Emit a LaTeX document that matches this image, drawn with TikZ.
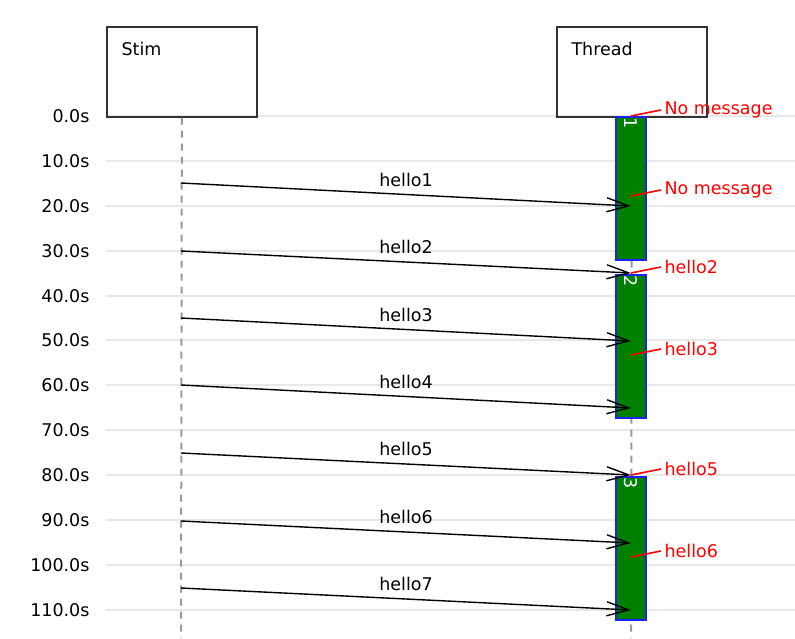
\documentclass[tikz,border=0pt]{standalone}
\usepackage{fontspec}
\setmainfont{DejaVu Sans}
\usepackage{tikz}
\usepackage{xcolor}
\usetikzlibrary{arrows.meta}

\definecolor{gridgray}{HTML}{E8E8E8}
\definecolor{lifegray}{HTML}{999999}
\definecolor{actgreen}{HTML}{008000}
\definecolor{actblue}{HTML}{2020F0}

\begin{document}
\begin{tikzpicture}[x=1pt,y=-1pt,
  every node/.style={font=\fontsize{17.5}{20}\selectfont},
  actor/.style={draw=black!80,line width=1.7pt,minimum width=150pt,minimum height=90pt,anchor=north west},
  gridline/.style={gridgray,line width=2pt},
  tick/.style={anchor=east},
  lifeline/.style={lifegray,dash pattern=on 7pt off 6pt,line width=2pt},
  activation/.style={fill=actgreen,draw=actblue,line width=1.5pt,minimum width=30pt,anchor=north,inner sep=0pt},
  barnum/.style={white,rotate=-90,anchor=west,inner sep=1pt},
  msg/.style={-{Straight Barb[length=22pt,width=14pt]},line width=1.4pt},
  note/.style={red,anchor=west},
  noteline/.style={red,line width=1.6pt}]
\useasboundingbox (0,0) rectangle (795,638);
\draw [gridline] (106,116) -- (795,116);
\draw [gridline] (106,161) -- (795,161);
\draw [gridline] (106,206) -- (795,206);
\draw [gridline] (106,251) -- (795,251);
\draw [gridline] (106,296) -- (795,296);
\draw [gridline] (106,340) -- (795,340);
\draw [gridline] (106,385) -- (795,385);
\draw [gridline] (106,430) -- (795,430);
\draw [gridline] (106,475) -- (795,475);
\draw [gridline] (106,520) -- (795,520);
\draw [gridline] (106,565) -- (795,565);
\draw [gridline] (106,610) -- (795,610);
\node [tick] (t0) at (93,116) {0.0s};
\node [tick] (t10) at (93,161) {10.0s};
\node [tick] (t20) at (93,206) {20.0s};
\node [tick] (t30) at (93,251) {30.0s};
\node [tick] (t40) at (93,296) {40.0s};
\node [tick] (t50) at (93,340) {50.0s};
\node [tick] (t60) at (93,385) {60.0s};
\node [tick] (t70) at (93,430) {70.0s};
\node [tick] (t80) at (93,475) {80.0s};
\node [tick] (t90) at (93,520) {90.0s};
\node [tick] (t100) at (93,565) {100.0s};
\node [tick] (t110) at (93,610) {110.0s};
\node [actor] (stim) at (106,26) {};
\node [anchor=west] (stimlabel) at ([xshift=12pt,yshift=-23pt]stim.north west) {Stim};
\node [actor] (thread) at (556,26) {};
\node [anchor=west] (threadlabel) at ([xshift=12pt,yshift=-23pt]thread.north west) {Thread};
\coordinate (stimend) at (181,638);
\coordinate (threadend) at (631,638);
\draw [lifeline] (stim.south) -- (stimend);
\draw [lifeline] (thread.south) -- (threadend);
\node [activation,minimum height=143pt] (bar1) at (631,116) {};
\node [activation,minimum height=143pt] (bar2) at (631,274) {};
\node [activation,minimum height=143pt] (bar3) at (631,476) {};
\node [barnum] (num1) at (bar1.north) {1};
\node [barnum] (num2) at (bar2.north) {2};
\node [barnum] (num3) at (bar3.north) {3};
\coordinate (s1) at (181,183); \coordinate (r1) at (631,206);
\coordinate (s2) at (181,251); \coordinate (r2) at (631,273);
\coordinate (s3) at (181,318); \coordinate (r3) at (631,341);
\coordinate (s4) at (181,385); \coordinate (r4) at (631,408);
\coordinate (s5) at (181,453); \coordinate (r5) at (631,475);
\coordinate (s6) at (181,521); \coordinate (r6) at (631,543);
\coordinate (s7) at (181,588); \coordinate (r7) at (631,610);
\draw [msg] (s1) -- node[above=4pt] (m1) {hello1} (r1);
\draw [msg] (s2) -- node[above=4pt] (m2) {hello2} (r2);
\draw [msg] (s3) -- node[above=4pt] (m3) {hello3} (r3);
\draw [msg] (s4) -- node[above=4pt] (m4) {hello4} (r4);
\draw [msg] (s5) -- node[above=4pt] (m5) {hello5} (r5);
\draw [msg] (s6) -- node[above=4pt] (m6) {hello6} (r6);
\draw [msg] (s7) -- node[above=4pt] (m7) {hello7} (r7);
\coordinate (a1) at (631,116);
\coordinate (a2) at (631,196);
\coordinate (a3) at (631,273);
\coordinate (a4) at (631,355);
\coordinate (a5) at (631,475);
\coordinate (a6) at (631,557);
\node [note] (n1) at (661,110) {No message};
\node [note] (n2) at (661,190) {No message};
\node [note] (n3) at (661,267) {hello2};
\node [note] (n4) at (661,349) {hello3};
\node [note] (n5) at (661,469) {hello5};
\node [note] (n6) at (661,551) {hello6};
\draw [noteline] (a1) -- (n1.west);
\draw [noteline] (a2) -- (n2.west);
\draw [noteline] (a3) -- (n3.west);
\draw [noteline] (a4) -- (n4.west);
\draw [noteline] (a5) -- (n5.west);
\draw [noteline] (a6) -- (n6.west);
\end{tikzpicture}
\end{document}
